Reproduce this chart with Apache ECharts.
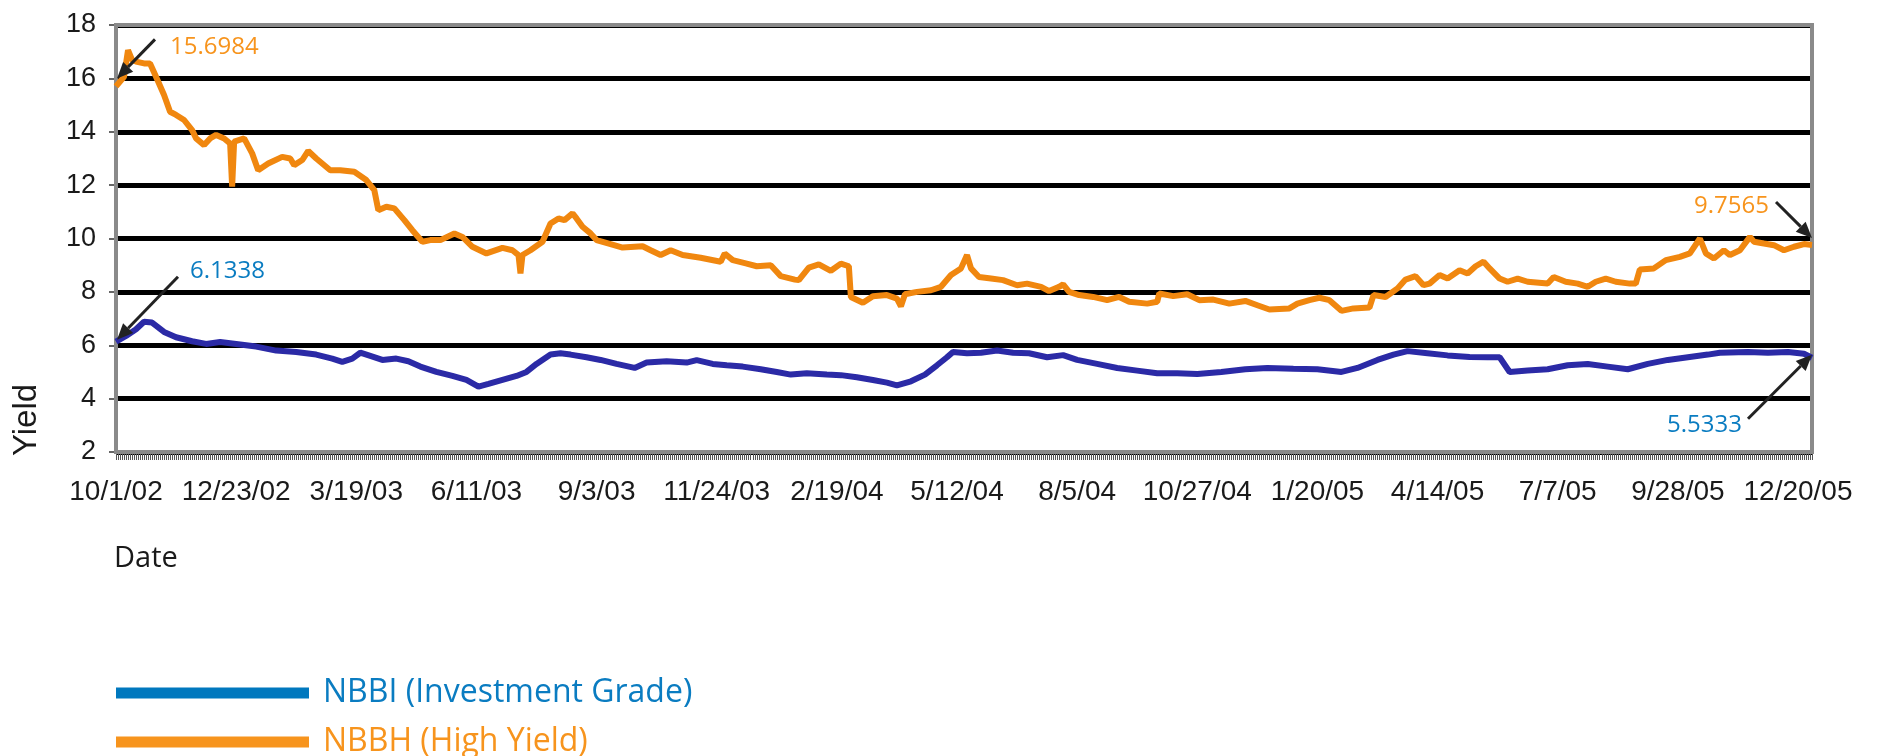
<!DOCTYPE html>
<html>
<head>
<meta charset="utf-8">
<script src="https://cdn.jsdelivr.net/npm/echarts@6/dist/echarts.min.js"></script>
<style>
html,body{margin:0;padding:0;background:#fff;}
#chart{width:1877px;height:756px;}
</style>
</head>
<body>
<div id="chart"></div>
<script>
// ---- data ----
const N_POINTS = 848;            // daily observations on the category axis
const LABEL_STEP = 60;           // a date label every 60 observations
const tickLabels = ['10/1/02','12/23/02','3/19/03','6/11/03','9/3/03','11/24/03','2/19/04','5/12/04','8/5/04','10/27/04','1/20/05','4/14/05','7/7/05','9/28/05','12/20/05'];
const yTicks = [2, 18, 2]; // min, max, step

// [observation index, yield]
const nbbh = [[0,15.70],[4,16.06],[6,17.06],[8,16.69],[10,16.63],[14,16.56],[17,16.56],[20,16.06],[24,15.38],[27,14.75],[30,14.63],[34,14.44],[38,14.06],[40,13.75],[44,13.5],[47,13.75],[50,13.88],[54,13.75],[57,13.56],[58,11.94],[59,13.63],[64,13.75],[68,13.19],[71,12.56],[76,12.81],[83,13.06],[87,13.0],[89,12.75],[93,12.94],[96,13.28],[100,13.0],[107,12.56],[112,12.56],[119,12.5],[125,12.19],[129,11.81],[131,11.06],[135,11.19],[139,11.13],[144,10.69],[148,10.31],[153,9.88],[157,9.94],[162,9.94],[169,10.19],[173,10.06],[178,9.69],[185,9.44],[193,9.65],[198,9.56],[201,9.38],[202,8.69],[203,9.38],[207,9.56],[213,9.88],[217,10.56],[221,10.75],[224,10.69],[228,10.94],[230,10.75],[233,10.44],[237,10.19],[240,9.94],[247,9.79],[253,9.66],[263,9.71],[267,9.56],[272,9.38],[277,9.56],[283,9.38],[292,9.28],[302,9.13],[304,9.44],[308,9.19],[315,9.06],[320,8.96],[327,9.0],[332,8.59],[339,8.46],[341,8.44],[346,8.91],[351,9.03],[357,8.79],[362,9.06],[366,8.96],[367,7.81],[373,7.59],[378,7.84],[385,7.88],[390,7.75],[392,7.46],[394,7.91],[400,8.0],[407,8.06],[412,8.19],[417,8.63],[422,8.88],[425,9.38],[427,8.88],[431,8.56],[437,8.5],[443,8.44],[450,8.25],[455,8.31],[462,8.19],[466,8.03],[471,8.19],[473,8.28],[476,8.0],[481,7.88],[488,7.81],[495,7.69],[501,7.81],[506,7.63],[515,7.56],[520,7.63],[521,7.94],[528,7.84],[535,7.91],[541,7.69],[548,7.71],[556,7.56],[564,7.66],[570,7.5],[576,7.34],[586,7.38],[590,7.56],[596,7.69],[601,7.78],[606,7.69],[612,7.29],[618,7.38],[626,7.41],[628,7.88],[634,7.81],[640,8.13],[644,8.46],[649,8.59],[653,8.25],[656,8.31],[661,8.63],[665,8.5],[671,8.81],[675,8.69],[679,8.96],[683,9.13],[686,8.88],[691,8.5],[695,8.38],[700,8.5],[705,8.38],[715,8.31],[718,8.56],[724,8.38],[730,8.31],[735,8.19],[739,8.38],[744,8.5],[749,8.38],[756,8.31],[759,8.31],[761,8.84],[768,8.88],[774,9.19],[781,9.31],[786,9.44],[791,10.0],[794,9.44],[798,9.25],[803,9.56],[806,9.38],[811,9.56],[816,10.06],[818,9.88],[823,9.81],[828,9.75],[833,9.56],[838,9.69],[843,9.79],[847,9.7565]];

const nbbi = [[0,6.1338],[5,6.35],[10,6.6],[14,6.88],[18,6.85],[24,6.5],[30,6.3],[38,6.15],[45,6.05],[52,6.12],[60,6.05],[70,5.95],[80,5.8],[90,5.75],[100,5.65],[108,5.5],[113,5.38],[118,5.5],[122,5.72],[127,5.6],[133,5.45],[140,5.5],[146,5.4],[152,5.2],[160,5.0],[168,4.85],[175,4.7],[181,4.45],[186,4.55],[193,4.7],[200,4.85],[205,5.0],[210,5.3],[217,5.65],[222,5.7],[227,5.65],[235,5.55],[242,5.45],[250,5.3],[259,5.15],[265,5.35],[275,5.4],[285,5.35],[290,5.44],[298,5.3],[305,5.25],[313,5.2],[322,5.1],[330,5.0],[337,4.9],[345,4.95],[355,4.9],[362,4.88],[370,4.8],[378,4.7],[385,4.6],[390,4.5],[397,4.65],[404,4.9],[410,5.25],[415,5.55],[418,5.75],[425,5.7],[432,5.72],[440,5.8],[448,5.72],[456,5.7],[465,5.55],[473,5.63],[480,5.45],[490,5.3],[500,5.15],[510,5.05],[520,4.95],[530,4.95],[540,4.92],[552,5.0],[564,5.1],[575,5.15],[588,5.12],[600,5.1],[612,5.0],[620,5.15],[630,5.45],[638,5.65],[645,5.78],[655,5.7],[665,5.62],[676,5.56],[685,5.55],[691,5.55],[696,5.0],[705,5.05],[715,5.1],[725,5.25],[735,5.3],[745,5.2],[755,5.1],[765,5.3],[775,5.45],[785,5.55],[795,5.65],[801,5.72],[815,5.75],[825,5.72],[835,5.75],[843,5.68],[847,5.5333]];

const seriesNames = ['NBBI (Investment Grade)', 'NBBH (High Yield)'];
const annotations = ['15.6984', '6.1338', '9.7565', '5.5333'];

// ---- chart ----
const categories = Array.from({length: N_POINTS}, (_, i) => String(i));
const ORANGE_LINE = '#f0870f', BLUE_LINE = '#2b2aa6';
const ORANGE_TXT = '#f7941d', BLUE_TXT = '#0a7cc1';
const chart = echarts.init(document.getElementById('chart'), null, {renderer: 'canvas'});

function legendFor(i, top, swatch, textColor) {
  return {
    orient: 'horizontal', left: 116, top: top, itemWidth: 193, itemHeight: 11,
    icon: 'rect', selectedMode: false, padding: 0,
    textStyle: {fontFamily: 'Open Sans', fontSize: 32, padding: [0,0,0,9], color: textColor},
    data: [{name: seriesNames[i], itemStyle: {color: swatch}}]
  };
}

chart.setOption({
  animation: false,
  backgroundColor: '#fff',
  grid: {left: 116, right: 65, top: 25, bottom: 304, show: true, borderColor: '#8a8a8a', borderWidth: 4, z: 3},
  xAxis: {
    type: 'category', data: categories, boundaryGap: false,
    axisLine: {lineStyle: {color: '#8a8a8a', width: 4}},
    axisTick: {interval: 0, length: 8, lineStyle: {color: '#555', width: 1}},
    axisLabel: {
      interval: LABEL_STEP - 1, margin: 26, hideOverlap: false,
      fontFamily: 'Liberation Sans', fontSize: 28, color: '#1a1a1a',
      formatter: (v, i) => (i % LABEL_STEP === 0 && tickLabels[i / LABEL_STEP]) ? tickLabels[i / LABEL_STEP] : ''
    },
    splitLine: {show: false}
  },
  yAxis: {
    type: 'value', min: yTicks[0], max: yTicks[1], interval: yTicks[2],
    axisLine: {show: true, lineStyle: {color: '#8a8a8a', width: 4}},
    axisTick: {show: true, length: 7, lineStyle: {color: '#666', width: 2}},
    axisLabel: {margin: 20, fontFamily: 'Liberation Sans', fontSize: 27, color: '#1a1a1a'},
    splitLine: {lineStyle: {color: '#000', width: 5}}
  },
  legend: [
    legendFor(0, 677, '#0078be', BLUE_TXT),
    legendFor(1, 726, '#f7941d', ORANGE_TXT)
  ],
  series: [
    {name: seriesNames[0], type: 'line', data: nbbi, showSymbol: false, lineStyle: {color: BLUE_LINE, width: 6}, itemStyle: {color: BLUE_LINE}, z: 5},
    {name: seriesNames[1], type: 'line', data: nbbh, showSymbol: false, lineStyle: {color: ORANGE_LINE, width: 6}, itemStyle: {color: ORANGE_LINE}, z: 5}
  ]
});

// ---- annotations anchored to first/last points ----
function arrow(tip, tail, color) {
  const ang = Math.atan2(tip[1] - tail[1], tip[0] - tail[0]);
  const L = 16, W = 7;
  const bx = tip[0] - L * Math.cos(ang), by = tip[1] - L * Math.sin(ang);
  const px = -Math.sin(ang) * W, py = Math.cos(ang) * W;
  return [
    {type: 'line', z: 20, shape: {x1: tail[0], y1: tail[1], x2: bx, y2: by}, style: {stroke: color, lineWidth: 3}},
    {type: 'polygon', z: 20, shape: {points: [tip, [bx + px, by + py], [bx - px, by - py]]}, style: {fill: color}}
  ];
}
const px = (pt) => chart.convertToPixel({gridIndex: 0}, pt);
const oS = px(nbbh[0]), bS = px(nbbi[0]);
const oE = px(nbbh[nbbh.length - 1]), bE = px(nbbi[nbbi.length - 1]);
const AR = '#222';
const tipOS = [oS[0] + 1, oS[1] - 8], tailOS = [tipOS[0] + 38, tipOS[1] - 39];
const tipBS = [bS[0] + 1, bS[1] - 2], tailBS = [tipBS[0] + 61, tipBS[1] - 63];
const tipOE = [oE[0], oE[1] - 7], tailOE = [tipOE[0] - 36, tipOE[1] - 36];
const tipBE = [bE[0], bE[1] - 3], tailBE = [tipBE[0] - 64, tipBE[1] + 64];
const txt = (s, x, y, align, color) => ({type: 'text', z: 20, style: {text: s, x: x, y: y, textAlign: align, textVerticalAlign: 'middle', fill: color, fontFamily: 'Open Sans', fontSize: 24}});
chart.setOption({
  graphic: [].concat(
    arrow(tipOS, tailOS, AR), arrow(tipBS, tailBS, AR), arrow(tipOE, tailOE, AR), arrow(tipBE, tailBE, AR),
    [
      txt(annotations[0], tailOS[0] + 15, tailOS[1] + 8, 'left', ORANGE_TXT),
      txt(annotations[1], tailBS[0] + 12, tailBS[1] - 6, 'left', BLUE_TXT),
      txt(annotations[2], tailOE[0] - 7, tailOE[1] + 4, 'right', ORANGE_TXT),
      txt(annotations[3], tailBE[0] - 6, tailBE[1] + 6, 'right', BLUE_TXT),
      {type: 'text', z: 20, style: {text: 'Date', x: 114, y: 559, textAlign: 'left', textVerticalAlign: 'middle', fill: '#1a1a1a', fontFamily: 'Open Sans', fontSize: 29}},
      {type: 'text', z: 20, rotation: Math.PI / 2, x: 27, y: 420, style: {text: 'Yield', x: 0, y: 0, textAlign: 'center', textVerticalAlign: 'middle', fill: '#1a1a1a', fontFamily: 'Liberation Sans', fontSize: 33}}
    ]
  )
});
</script>
</body>
</html>
